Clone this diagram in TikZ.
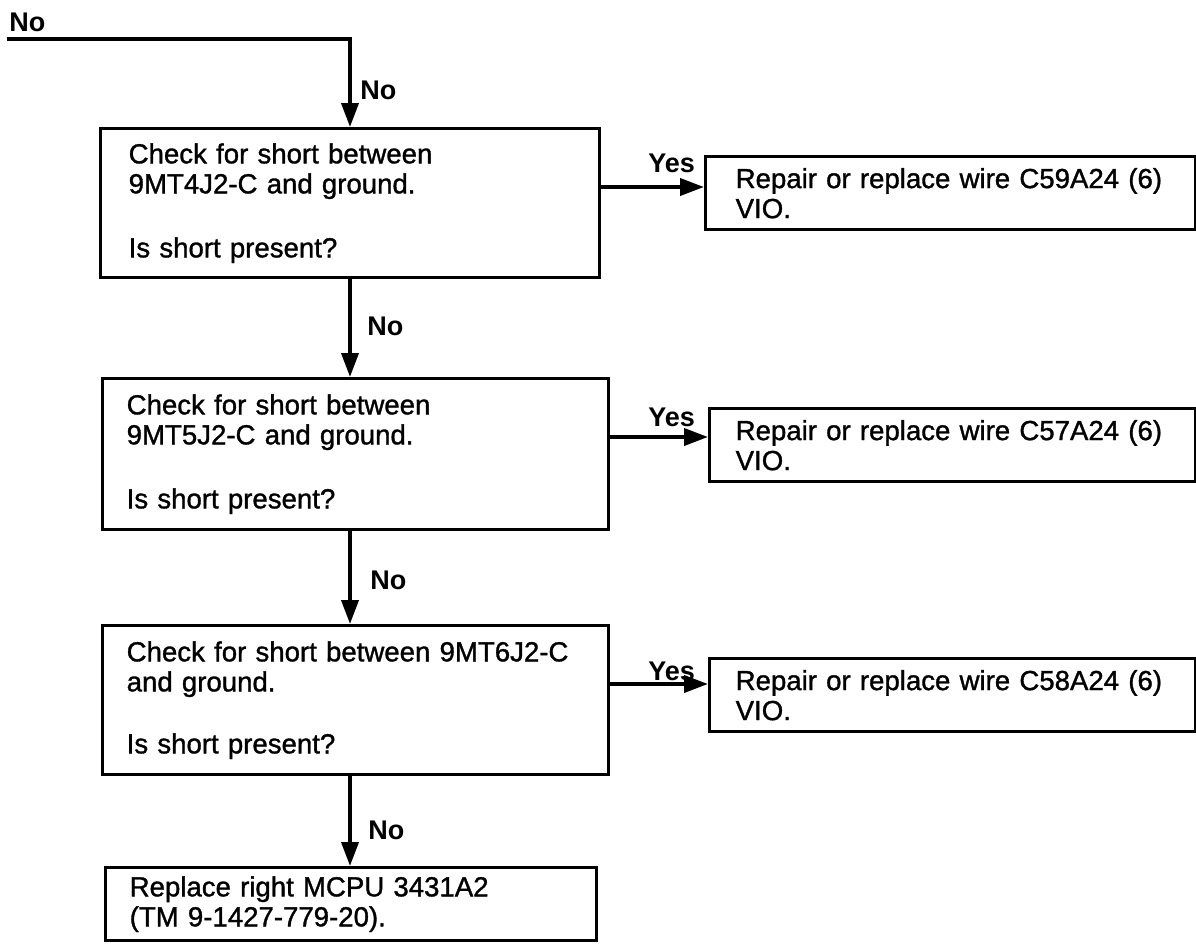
\documentclass[tikz,border=0pt]{standalone}
\usepackage{fontspec}
\setmainfont{Liberation Sans}
\newfontfamily\boxfont[FakeBold=1.2]{Liberation Sans}
\usetikzlibrary{arrows.meta}
\begin{document}
\begin{tikzpicture}[x=0.5pt,y=-0.5pt,
  box/.style n args={3}{draw, line width=1.7pt, anchor=north west,
    text width=#1pt, minimum height=#2pt, inner xsep=#3pt, inner ysep=0pt,
    align=left, font=\boxfont\fontsize{13.8}{15}\selectfont},
  conn/.style={line width=1.9pt, -{Triangle[length=12pt,width=8.5pt]}},
  lbl/.style={anchor=west, inner sep=0pt, font=\bfseries\fontsize{13.5}{15}\selectfont}]
\useasboundingbox (0,0) rectangle (1196,944);

% main column
\node[box={221.5}{74.5}{14}] (b1) at (99,127)
  {Check for short between\\9MT4J2-C and ground.\\[17pt]Is short present?};
\node[box={229}{75.5}{12}] (b2) at (101,377)
  {Check for short between\\9MT5J2-C and ground.\\[17pt]Is short present?};
\node[box={229}{74.5}{12}] (b3) at (101,624)
  {Check for short between 9MT6J2-C\\and ground.\\[16pt]Is short present?};
\node[box={221.5}{36.5}{12}] (b4) at (104,866)
  {Replace right MCPU 3431A2\\(TM 9-1427-779-20).};

% right column
\node[box={215}{36.5}{15}] (r1) at (704,155)
  {Repair or replace wire C59A24 (6)\\VIO.};
\node[box={217}{36.5}{13}] (r2) at (708,407)
  {Repair or replace wire C57A24 (6)\\VIO.};
\node[box={217}{36.5}{13}] (r3) at (708,657)
  {Repair or replace wire C58A24 (6)\\VIO.};

% coordinates
\coordinate (start) at (7,39);
\coordinate (bend) at (350,39);
\coordinate (y1) at ([yshift=-30pt]b1.north east);
\coordinate (y2) at ([yshift=-30pt]b2.north east);
\coordinate (y3) at ([yshift=-30pt]b3.north east);

% connectors
\draw[conn] (start) -- (bend) -- (bend |- b1.north);
\draw[conn] (b1.south -| bend) -- (b2.north -| bend);
\draw[conn] (b2.south -| bend) -- (b3.north -| bend);
\draw[conn] (b3.south -| bend) -- (b4.north -| bend);
\draw[conn] (y1) -- (y1 -| r1.west);
\draw[conn] (y2) -- (y2 -| r2.west);
\draw[conn] (y3) -- (y3 -| r3.west);

% labels
\node[lbl] (n0) at (9,22) {No};
\node[lbl] (n1) at (360,90) {No};
\node[lbl] (n2) at (367,326) {No};
\node[lbl] (n3) at (370,580) {No};
\node[lbl] (n4) at (368,830) {No};
\node[lbl] (e1) at (648,163) {Yes};
\node[lbl] (e2) at (648,417) {Yes};
\node[lbl] (e3) at (648,671) {Yes};
\end{tikzpicture}
\end{document}
